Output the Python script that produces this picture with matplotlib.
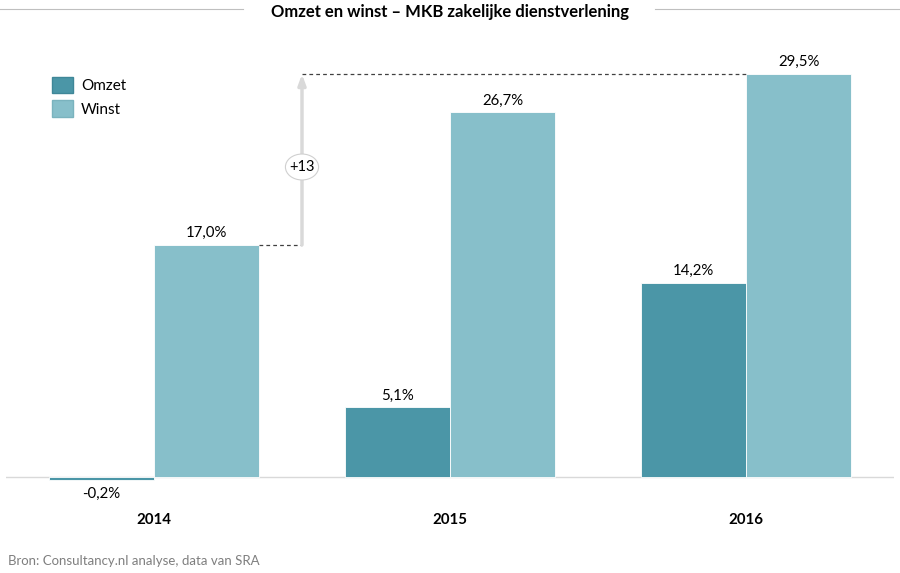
import matplotlib.pyplot as plt
from matplotlib.patches import Ellipse, Patch

years = ['2014', '2015', '2016']
omzet = [-0.2, 5.1, 14.2]
winst = [17.0, 26.7, 29.5]
omzet_labels = ['-0,2%', '5,1%', '14,2%']
winst_labels = ['17,0%', '26,7%', '29,5%']
diff_label = '+13'

c_omzet = '#4b96a7'
c_winst = '#87bfca'
font = ['Lato', 'DejaVu Sans']
plt.rcParams['font.family'] = font

fig = plt.figure(figsize=(9, 5.73), dpi=100)
ax = fig.add_axes([6 / 900, 1 - 500 / 573, 888 / 900, 460 / 573])

w = 0.355
x = list(range(len(years)))
ax.bar([i - w / 2 for i in x], omzet, w, color=c_omzet, edgecolor='white', linewidth=0.6)
ax.bar([i + w / 2 for i in x], winst, w, color=c_winst, edgecolor='white', linewidth=0.6)

for i in x:
    if omzet[i] < 0:
        ax.text(i - w / 2, omzet[i] - 0.55, omzet_labels[i], ha='center', va='top', fontsize=10.8)
    else:
        ax.text(i - w / 2, omzet[i] + 0.35, omzet_labels[i], ha='center', va='bottom', fontsize=10.8)
    ax.text(i + w / 2, winst[i] + 0.35, winst_labels[i], ha='center', va='bottom', fontsize=10.8)
    ax.text(i, -3.15, years[i], ha='center', va='center', fontsize=10.8, fontweight='bold',
            clip_on=False)

ax.axhline(0, color='#d9d9d9', linewidth=1, zorder=0)

# difference annotation
xa = 0.5
ax.plot([w, xa], [winst[0], winst[0]], ls='--', color='#404040', lw=0.9, dashes=(3, 2.5))
ax.plot([xa, 2], [winst[2], winst[2]], ls='--', color='#404040', lw=0.9, dashes=(3, 2.5))
ax.annotate('', xy=(xa, winst[2]), xytext=(xa, winst[0]),
            arrowprops=dict(arrowstyle='-|>,head_width=0.22,head_length=0.6',
                            color='#d9d9d9', lw=2.5, shrinkA=0, shrinkB=0))
ymid = 22.7
ax.add_patch(Ellipse((xa, ymid), 0.112, 1.9, facecolor='white', edgecolor='#d0d0d0', lw=0.8, zorder=5))
ax.text(xa, ymid, diff_label, ha='center', va='center', fontsize=10.5, zorder=6)

ax.set_xlim(-0.5, 2.5)
ax.set_ylim(-1.685, 32.0)
ax.axis('off')

handles = [Patch(facecolor=c_omzet, edgecolor='#3f8798', label='Omzet'),
           Patch(facecolor=c_winst, edgecolor='#7ab3be', label='Winst')]
fig.legend(handles=handles, loc='upper left', bbox_to_anchor=(38 / 900, 1 - 63 / 573),
           frameon=False, fontsize=11, handlelength=1.4, handleheight=1.3,
           handletextpad=0.5, labelspacing=0.45)

# title with side rules
fig.text(0.5, 1 - 12 / 573, 'Omzet en winst \u2013 MKB zakelijke dienstverlening',
         ha='center', va='center', fontsize=12, fontweight='bold')
fig.add_artist(plt.Line2D([0, 243 / 900], [1 - 9 / 573] * 2, color='#bfbfbf', lw=0.8))
fig.add_artist(plt.Line2D([655 / 900, 1], [1 - 9 / 573] * 2, color='#bfbfbf', lw=0.8))

fig.text(8 / 900, 1 - 561 / 573, 'Bron: Consultancy.nl analyse, data van SRA',
         ha='left', va='center', fontsize=9.5, color='#7f7f7f')

fig.savefig('out.png', dpi=100)
